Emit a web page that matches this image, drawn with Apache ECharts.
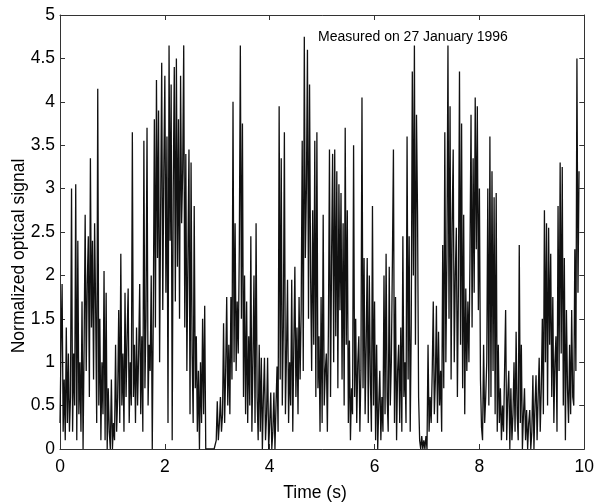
<!DOCTYPE html>
<html>
<head>
<meta charset="utf-8">
<script src="https://cdn.jsdelivr.net/npm/echarts@6/dist/echarts.min.js"></script>
<style>
html,body{margin:0;padding:0;background:#fff;}
#chart{width:597px;height:504px;}
</style>
</head>
<body>
<div id="chart"></div>
<script>
// Sampling of the measured signal
const sampleStart = 0;      // s
const sampleStep = 0.02;    // s between samples

// Normalized optical signal (one row = 0.2 s)
const signal = [
  0.3, 1.2, 1.9, 0.2, 0.8, 0.1, 1.4, 0.3, 1.1, 0.2,
  0.6, 3.0, 0.2, 1.1, 0.5, 3.05, 0.1, 2.4, 0.4, 1.0,
  0.2, 1.7, 0.0, 1.2, 2.7, 0.9, 1.9, 2.45, 0.6, 3.35,
  1.4, 2.4, 0.8, 2.6, 1.6, 0.3, 4.15, 0.5, 1.5, 0.1,
  1.0, 0.4, 2.05, 0.1, 1.8, 0.0, 0.7, 0.2, 0.0, 0.8,
  0.0, 0.3, 0.1, 1.2, 0.2, 0.6, 1.6, 0.3, 2.25, 0.5,
  1.1, 0.2, 1.8, 0.6, 1.3, 1.85, 0.3, 1.0, 0.5, 3.65,
  0.6, 1.2, 0.3, 1.4, 0.5, 1.1, 1.9, 0.4, 1.3, 0.2,
  3.55, 0.7, 1.5, 3.7, 0.5, 1.2, 0.9, 2.0, 0.0, 1.6,
  3.8, 1.4, 4.25, 2.2, 3.9, 1.0, 2.8, 4.45, 1.6, 3.2,
  4.3, 1.8, 3.6, 0.3, 4.65, 2.4, 4.2, 0.1, 3.0, 4.4,
  1.7, 4.5, 2.1, 3.8, 1.5, 4.3, 2.6, 3.2, 4.65, 1.4,
  3.4, 0.9, 2.2, 3.45, 0.4, 3.3, 1.1, 0.3, 2.8, 0.7,
  1.3, 0.2, 0.9, 0.0, 1.0, 0.3, 1.5, 0.4, 1.65, 0.0,
  0.0, 0.0, 0.0, 0.0, 0.0, 0.0, 0.0, 0.0, 0.0, 0.1,
  0.55, 0.1, 0.3, 0.6, 0.2, 0.4, 1.45, 0.3, 0.9, 1.75,
  0.5, 1.2, 0.4, 1.75, 0.8, 4.0, 1.0, 2.6, 0.9, 1.7,
  1.1, 2.3, 4.65, 1.5, 3.75, 0.6, 2.0, 0.4, 1.7, 0.3,
  1.3, 0.5, 2.45, 0.2, 1.0, 2.0, 0.3, 2.6, 0.6, 0.1,
  1.2, 0.2, 1.05, 0.0, 0.6, 1.05, 0.1, 0.4, 1.05, 0.0,
  0.3, 0.65, 0.0, 0.2, 0.65, 0.0, 0.5, 0.95, 0.2, 3.95,
  0.8, 3.35, 0.5, 1.4, 3.65, 0.4, 1.1, 1.95, 0.3, 1.0,
  0.5, 1.95, 0.2, 1.2, 2.1, 0.6, 1.4, 0.4, 1.75, 0.8,
  1.6, 3.55, 0.9, 4.75, 2.2, 3.0, 4.6, 1.5, 4.2, 2.0,
  0.9, 2.75, 1.2, 3.55, 0.6, 3.65, 0.7, 1.3, 0.2, 1.75,
  0.3, 2.7, 0.5, 0.9, 1.1, 0.2, 1.4, 3.45, 0.6, 2.2,
  3.4, 1.0, 3.45, 1.3, 3.2, 0.7, 3.05, 1.6, 2.95, 0.8,
  2.6, 0.5, 3.7, 1.2, 2.75, 0.3, 1.25, 0.1, 0.7, 0.4,
  3.5, 0.6, 1.5, 0.3, 1.0, 1.3, 0.2, 0.9, 4.05, 0.7,
  2.2, 0.4, 1.2, 2.2, 0.3, 2.0, 0.8, 0.2, 2.8, 0.5,
  1.7, 0.1, 1.2, 0.0, 0.5, 0.9, 0.1, 0.6, 0.2, 2.0,
  0.4, 2.25, 0.6, 0.2, 2.1, 0.5, 1.0, 2.15, 3.45, 0.3,
  1.75, 0.1, 0.9, 1.2, 0.3, 1.4, 0.2, 2.45, 0.6, 1.0,
  0.3, 3.6, 0.8, 2.45, 0.2, 1.45, 4.35, 2.0, 4.65, 1.2,
  3.85, 2.7, 0.6, 0.1, 0.0, 0.15, 0.0, 0.1, 0.0, 0.15,
  0.0, 1.2, 0.2, 0.6, 0.3, 0.9, 1.7, 0.4, 0.8, 1.65,
  0.3, 1.35, 0.5, 0.9, 0.2, 2.35, 0.7, 3.65, 1.0, 2.2,
  4.65, 1.5, 3.95, 0.8, 2.6, 3.45, 1.0, 2.0, 2.55, 0.6,
  1.9, 4.35, 1.2, 3.75, 0.7, 2.7, 0.4, 1.85, 0.9, 1.7,
  1.0, 2.2, 3.85, 1.4, 3.35, 1.8, 4.05, 2.3, 3.95, 1.6,
  3.0, 0.8, 0.25, 0.1, 1.2, 0.3, 0.6, 1.0, 3.0, 0.5,
  3.6, 0.6, 3.2, 0.9, 2.9, 0.4, 2.95, 0.2, 1.2, 0.3,
  0.7, 0.1, 0.5, 0.2, 0.9, 1.6, 0.1, 0.6, 0.9, 0.0,
  0.7, 0.1, 0.4, 1.0, 0.2, 1.35, 0.4, 0.1, 2.35, 0.3,
  1.2, 0.0, 0.4, 0.7, 0.1, 0.45, 0.0, 0.3, 0.45, 0.0,
  0.2, 0.85, 0.0, 0.5, 0.85, 0.1, 0.6, 1.05, 0.2, 0.7,
  1.5, 0.4, 2.75, 1.0, 2.6, 0.5, 2.55, 1.2, 2.25, 0.6,
  1.75, 0.3, 1.0, 1.3, 0.2, 2.8, 0.9, 3.3, 1.1, 3.25,
  0.5, 2.2, 0.1, 1.6, 0.7, 0.3, 1.2, 0.4, 1.6, 0.6,
  0.5, 2.3, 0.9, 4.5, 1.8, 3.2
];

const xTicks = { min: 0, max: 10, interval: 2 };
const yTicks = { min: 0, max: 5, interval: 0.5 };
const xLabel = 'Time (s)';
const yLabel = 'Normalized optical signal';
const note = 'Measured on 27 January 1996';

const points = signal.map((v, i) => [+(sampleStart + i * sampleStep).toFixed(2), v]);

const FONT = '"Liberation Sans", Arial, Helvetica, sans-serif';
const axisLineStyle = { color: '#333', width: 1 };

const chart = echarts.init(document.getElementById('chart'), null, { renderer: 'canvas' });
chart.setOption({
  animation: false,
  backgroundColor: '#fff',
  grid: { left: 60, right: 11, top: 15, bottom: 55, containLabel: false },
  xAxis: [
    {
      type: 'value', position: 'bottom', min: xTicks.min, max: xTicks.max, interval: xTicks.interval,
      axisLine: { show: true, onZero: false, lineStyle: axisLineStyle },
      axisTick: { show: true, inside: true, length: 5, lineStyle: axisLineStyle },
      axisLabel: { show: true, fontSize: 17.5, color: '#000', fontFamily: FONT, margin: 9 },
      splitLine: { show: false }
    },
    {
      type: 'value', position: 'top', min: xTicks.min, max: xTicks.max, interval: xTicks.interval,
      axisLine: { show: true, onZero: false, lineStyle: axisLineStyle },
      axisTick: { show: true, inside: true, length: 5, lineStyle: axisLineStyle },
      axisLabel: { show: false },
      splitLine: { show: false }
    }
  ],
  yAxis: [
    {
      type: 'value', position: 'left', min: yTicks.min, max: yTicks.max, interval: yTicks.interval,
      axisLine: { show: true, onZero: false, lineStyle: axisLineStyle },
      axisTick: { show: true, inside: true, length: 5, lineStyle: axisLineStyle },
      axisLabel: { show: true, fontSize: 17.5, color: '#000', fontFamily: FONT, margin: 5 },
      splitLine: { show: false }
    },
    {
      type: 'value', position: 'right', min: yTicks.min, max: yTicks.max, interval: yTicks.interval,
      axisLine: { show: true, onZero: false, lineStyle: axisLineStyle },
      axisTick: { show: true, inside: true, length: 5, lineStyle: axisLineStyle },
      axisLabel: { show: false },
      splitLine: { show: false }
    }
  ],
  series: [{
    type: 'line',
    xAxisIndex: 0,
    yAxisIndex: 0,
    data: points,
    showSymbol: false,
    symbol: 'none',
    sampling: null,
    lineStyle: { color: '#111', width: 1.3 },
    emphasis: { disabled: true },
    z: 1
  }],
  graphic: [
    {
      type: 'text', x: 318, y: 37,
      style: { text: note, font: '14px ' + FONT, fill: '#000', align: 'left', verticalAlign: 'middle' },
      z: 100
    },
    {
      type: 'text', x: 315, y: 493,
      style: { text: xLabel, font: '17.5px ' + FONT, fill: '#000', align: 'center', verticalAlign: 'middle' }
    },
    {
      type: 'text', x: 19, y: 256, rotation: Math.PI / 2,
      style: { text: yLabel, font: '17.5px ' + FONT, fill: '#000', align: 'center', verticalAlign: 'middle' }
    }
  ]
});
</script>
</body>
</html>
